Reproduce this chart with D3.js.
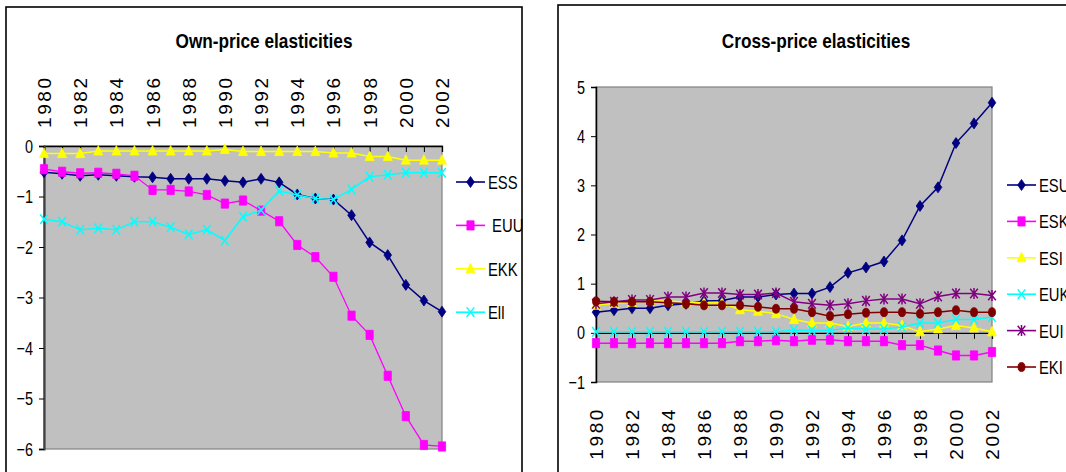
<!DOCTYPE html>
<html><head><meta charset="utf-8">
<script src="https://cdn.jsdelivr.net/npm/d3@7"></script>
<style>
html,body{margin:0;padding:0;background:#fff;overflow:hidden}
svg{display:block}
text{font-family:"Liberation Sans",Arial,sans-serif;fill:#000}
</style></head>
<body>
<svg id="c" width="1066" height="472"></svg>
<script>
// ---------- data ----------
const years = [1980,1981,1982,1983,1984,1985,1986,1987,1988,1989,1990,1991,1992,1993,1994,1995,1996,1997,1998,1999,2000,2001,2002];
const yearLabels = [1980,1982,1984,1986,1988,1990,1992,1994,1996,1998,2000,2002];

// Own-price elasticities
const ESS = [-0.52,-0.55,-0.59,-0.57,-0.59,-0.61,-0.62,-0.65,-0.65,-0.65,-0.69,-0.72,-0.65,-0.72,-0.96,-1.04,-1.06,-1.37,-1.91,-2.16,-2.75,-3.06,-3.28];
const EUU = [-0.46,-0.51,-0.54,-0.53,-0.55,-0.59,-0.87,-0.87,-0.90,-0.97,-1.14,-1.08,-1.28,-1.49,-1.96,-2.20,-2.59,-3.36,-3.74,-4.55,-5.35,-5.92,-5.95];
const EKK = [-0.15,-0.15,-0.15,-0.10,-0.10,-0.10,-0.10,-0.10,-0.10,-0.10,-0.07,-0.11,-0.11,-0.11,-0.11,-0.11,-0.14,-0.14,-0.21,-0.21,-0.28,-0.28,-0.28];
const Ell = [-1.45,-1.50,-1.66,-1.63,-1.66,-1.50,-1.50,-1.61,-1.75,-1.66,-1.87,-1.40,-1.27,-0.89,-0.97,-1.04,-1.06,-0.86,-0.61,-0.57,-0.53,-0.53,-0.53];
const ownNames = ["ESS"," EUU","EKK","Ell"];
const ownTicks = [0,-1,-2,-3,-4,-5,-6];

// Cross-price elasticities
const ESU = [0.42,0.46,0.50,0.50,0.56,0.59,0.65,0.66,0.73,0.73,0.78,0.80,0.80,0.93,1.22,1.33,1.45,1.88,2.58,2.96,3.86,4.26,4.68];
const ESK = [-0.21,-0.21,-0.21,-0.21,-0.21,-0.21,-0.21,-0.21,-0.17,-0.17,-0.15,-0.17,-0.14,-0.14,-0.17,-0.17,-0.17,-0.25,-0.25,-0.36,-0.46,-0.46,-0.39];
const ESI = [0.56,0.60,0.62,0.65,0.65,0.62,0.61,0.61,0.47,0.44,0.39,0.27,0.20,0.20,0.13,0.20,0.20,0.15,0.02,0.08,0.15,0.10,0.02];
const EUK = [0.02,0.02,0.02,0.02,0.02,0.02,0.02,0.02,0.02,0.02,0.02,0.06,0.05,0.05,0.10,0.08,0.08,0.12,0.20,0.20,0.27,0.27,0.32];
const EUI = [0.59,0.63,0.67,0.67,0.73,0.73,0.81,0.81,0.78,0.78,0.81,0.63,0.59,0.56,0.59,0.65,0.69,0.69,0.59,0.74,0.80,0.80,0.76];
const EKI = [0.64,0.63,0.63,0.63,0.61,0.59,0.56,0.56,0.56,0.53,0.49,0.49,0.42,0.34,0.38,0.41,0.42,0.42,0.39,0.42,0.46,0.42,0.42];
const crossNames = ["ESU","ESK","ESI","EUK","EUI","EKI"];
const crossTicks = [5,4,3,2,1,0,-1];

// ---------- styles ----------
const markerPaths = {
  diamond: "M0,-5.5L3.8,0L0,5.5L-3.8,0Z",
  square: "M-3.6,-4.6H3.6V4.6H-3.6Z",
  triangle: "M0,-5.5L4.5,4L-4.5,4Z",
  x: "M-3.8,-4.8L3.8,4.8M-3.8,4.8L3.8,-4.8",
  star: "M-3.8,-4.8L3.8,4.8M-3.8,4.8L3.8,-4.8M0,-5.5V5.5",
  circle: "M-3.5,0A3.5,4.5 0 1,0 3.5,0A3.5,4.5 0 1,0 -3.5,0Z"
};

const svg = d3.select("#c");
const SX = 0.78;

function htext(g, x, y, str, size, anchor, bold, sx){
  return g.append("text")
    .attr("transform", `translate(${x},${y}) scale(${sx||SX},1)`)
    .attr("text-anchor", anchor||"start")
    .style("font-size", size+"px")
    .style("font-weight", bold?"bold":"normal")
    .style("white-space","pre")
    .text(str);
}

function marker(g, shape, color, x, y){
  const filled = !(shape==="x"||shape==="star");
  g.append("path").attr("d", markerPaths[shape])
    .attr("transform", `translate(${x},${y})`)
    .attr("fill", filled?color:"none")
    .attr("stroke", color)
    .attr("stroke-width", filled?0.8:1.5);
}

function drawChart(cfg){
  const g = svg.append("g");
  g.append("rect").attr("x",cfg.box[0]).attr("y",cfg.box[1]).attr("width",cfg.box[2]).attr("height",cfg.box[3])
    .attr("fill","#fff").attr("stroke","#000").attr("stroke-width",1.6);
  htext(g, cfg.titleX, 48, cfg.title, 20.5, "middle", true, 0.84);

  const x = d3.scalePoint().domain(years).range(cfg.xr);
  const y = d3.scaleLinear().domain(cfg.yd).range(cfg.yr);

  g.append("rect").attr("x",cfg.xr[0]).attr("y",y(cfg.yd[1])).attr("width",cfg.xr[1]-cfg.xr[0])
    .attr("height",y(cfg.yd[0])-y(cfg.yd[1])).attr("fill","#c0c0c0").attr("stroke","#808080").attr("stroke-width",1.2);

  const xa = g.append("g").attr("transform",`translate(0,${y(0)})`)
    .call(d3.axisBottom(x).tickSize(6).tickFormat(""));
  xa.select(".domain").attr("stroke","#000").attr("stroke-width",1.3);
  xa.selectAll(".tick line").attr("stroke","#000").attr("stroke-width",1);

  const ya = g.append("g").attr("transform",`translate(${cfg.xr[0]},0)`)
    .call(d3.axisLeft(y).tickValues(cfg.ticks).tickSize(5).tickPadding(6).tickFormat(d3.format("d")));
  ya.select(".domain").attr("stroke",cfg.yAxisColor).attr("stroke-width",cfg.yAxisWidth);
  ya.selectAll(".tick line").attr("stroke","#000");
  ya.selectAll(".tick text").remove();
  cfg.ticks.forEach(t=>{
    htext(g, cfg.xr[0]-11, y(t)+6.5, d3.format("d")(t), 18.5, "end");
  });

  yearLabels.forEach(yr=>{
    g.append("text")
      .attr("transform",`translate(${x(yr)+7},${cfg.labelY}) rotate(-90)`)
      .attr("text-anchor",cfg.labelAnchor)
      .style("font-size","19px")
      .style("letter-spacing","2.6px")
      .text(String(yr));
  });

  const line = d3.line().x((d,i)=>x(years[i])).y(d=>y(d));
  cfg.series.forEach(s=>{
    g.append("path").datum(s.values).attr("d",line).attr("fill","none")
      .attr("stroke",s.color).attr("stroke-width",s.lw||1.5);
    s.values.forEach((v,i)=>marker(g, s.shape, s.color, x(years[i]), y(v)));
  });

  cfg.series.forEach((s,i)=>{
    const ly = cfg.legY[0] + i*cfg.legY[1];
    g.append("line").attr("x1",cfg.legX).attr("x2",cfg.legX+29).attr("y1",ly).attr("y2",ly)
      .attr("stroke",s.color).attr("stroke-width",1.6);
    marker(g, s.shape, s.color, cfg.legX+14.5, ly);
    htext(g, cfg.legX+32, ly+7, s.name, 19, "start");
  });
}

drawChart({
  box:[6,7,516,480], title:"Own-price elasticities", titleX:264,
  xr:[44,442], yd:[-6,0], yr:[449,146], ticks:ownTicks,
  yAxisColor:"#404040", yAxisWidth:2.2,
  labelY:128, labelAnchor:"start",
  legX:456, legY:[182,43.4],
  series:[
    {name:ownNames[0], values:ESS, color:"#000080", shape:"diamond"},
    {name:ownNames[1], values:EUU, color:"#ff00ff", shape:"square", lw:1.3},
    {name:ownNames[2], values:EKK, color:"#ffff00", shape:"triangle"},
    {name:ownNames[3], values:Ell, color:"#00ffff", shape:"x"}
  ]
});

drawChart({
  box:[558,5,520,480], title:"Cross-price elasticities", titleX:816,
  xr:[596,992], yd:[-1,5], yr:[382,87], ticks:crossTicks,
  yAxisColor:"#000", yAxisWidth:1.5,
  labelY:407, labelAnchor:"end",
  legX:1007, legY:[185,36.4],
  series:[
    {name:crossNames[0], values:ESU, color:"#000080", shape:"diamond"},
    {name:crossNames[1], values:ESK, color:"#ff00ff", shape:"square"},
    {name:crossNames[2], values:ESI, color:"#ffff00", shape:"triangle"},
    {name:crossNames[3], values:EUK, color:"#00ffff", shape:"x"},
    {name:crossNames[4], values:EUI, color:"#800080", shape:"star"},
    {name:crossNames[5], values:EKI, color:"#800000", shape:"circle"}
  ]
});
</script>
</body></html>
